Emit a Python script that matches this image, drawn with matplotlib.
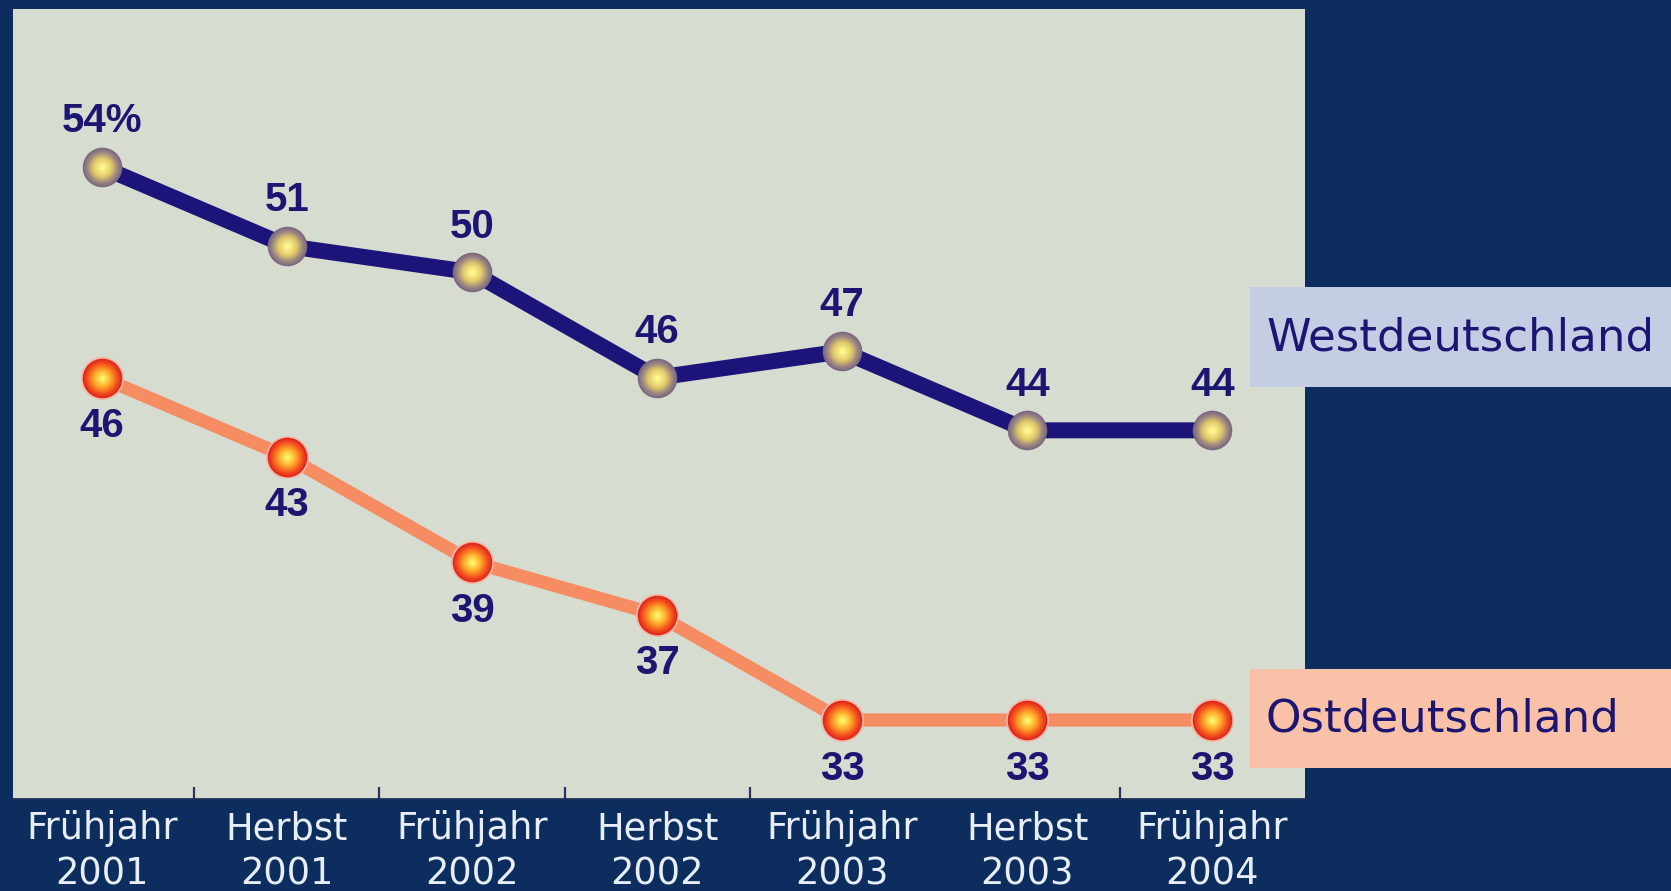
import matplotlib
matplotlib.use('Agg')
import matplotlib.pyplot as plt
import numpy as np
from matplotlib.patches import Rectangle
from matplotlib.colors import to_rgb

# ---- data ----
categories = ['Frühjahr\n2001', 'Herbst\n2001', 'Frühjahr\n2002', 'Herbst\n2002',
              'Frühjahr\n2003', 'Herbst\n2003', 'Frühjahr\n2004']
west = [54, 51, 50, 46, 47, 44, 44]
east = [46, 43, 39, 37, 33, 33, 33]
west_labels = ['54%', '51', '50', '46', '47', '44', '44']
east_labels = ['46', '43', '39', '37', '33', '33', '33']
series_names = ['Westdeutschland', 'Ostdeutschland']

# ---- style ----
bg = '#0c2d5e'
panel = '#d7dcd1'
west_line = '#1c1479'
east_line = '#f58c62'
label_col = '#1c1672'
tick_col = '#e8eef6'
west_box = '#c5cde4'
east_box = '#f9c1a8'

W, H = 1671, 891
fig = plt.figure(figsize=(W / 100, H / 100), dpi=100, facecolor=bg)
ax = fig.add_axes([13 / W, 1 - 799 / H, (1305 - 13) / W, (799 - 9) / H])
ax.set_facecolor(panel)

x = np.arange(len(categories))
ax.plot(x, west, color=west_line, lw=11.5, zorder=2)
ax.plot(x, east, color=east_line, lw=9.5, zorder=2)


def interp(stops, t):
    for (p0, c0), (p1, c1) in zip(stops[:-1], stops[1:]):
        if p0 <= t <= p1:
            f = (t - p0) / (p1 - p0) if p1 > p0 else 0
            a, b = np.array(to_rgb(c0)), np.array(to_rgb(c1))
            return tuple(a + (b - a) * f)
    return to_rgb(stops[-1][1])


def grad_markers(vals, stops, size, n=16, z=3):
    for i in range(n):
        t = i / (n - 1)
        ms = size * (1 - 0.9 * t)
        ax.plot(x, vals, ls='none', marker='o', ms=ms, mec='none',
                mfc=interp(stops, t), zorder=z + i * 0.01)


# halo for east markers
ax.plot(x, east, ls='none', marker='o', ms=31, mec='none', mfc='#f3b9a6', zorder=2.5)
grad_markers(west, [(0, '#7a6880'), (0.25, '#a08a80'), (0.55, '#e0c868'), (1, '#fff890')], 28.5)
grad_markers(east, [(0, '#e0261e'), (0.25, '#f4541e'), (0.6, '#ffaa2a'), (1, '#fff468')], 28.5)

lab_font = dict(family=['Liberation Sans', 'DejaVu Sans'], weight='bold', size=29, color=label_col)
for xi, v, s in zip(x, west, west_labels):
    ax.annotate(s, (xi, v), xytext=(0, 33), textcoords='offset points',
                ha='center', va='center', zorder=5, **lab_font)
for xi, v, s in zip(x, east, east_labels):
    ax.annotate(s, (xi, v), xytext=(0, -35), textcoords='offset points',
                ha='center', va='center', zorder=5, **lab_font)

ax.set_xlim(-0.48, 6.5)
ax.set_ylim(30, 60)
ax.set_yticks([])
for side in ['top', 'left', 'right']:
    ax.spines[side].set_visible(False)
ax.spines['bottom'].set_color('#1a2f5a')
ax.spines['bottom'].set_linewidth(2)

ax.set_xticks(x, categories)
ax.tick_params(axis='x', which='major', length=0, pad=8, labelcolor=tick_col,
               labelsize=26.5)
for t in ax.get_xticklabels():
    t.set_family('DejaVu Sans')
    t.set_linespacing(1.3)
ax.set_xticks([0.5, 1.5, 2.5, 3.5, 5.5], minor=True)
ax.tick_params(axis='x', which='minor', direction='in', length=9, width=1.6,
               color='#2a3560')

# legend boxes
fig.add_artist(Rectangle((1250 / W, 1 - 387 / H), (W - 1250) / W, (387 - 287) / H,
                         transform=fig.transFigure, facecolor=west_box, edgecolor='none', zorder=10))
fig.add_artist(Rectangle((1250 / W, 1 - 768 / H), (W - 1250) / W, (768 - 669) / H,
                         transform=fig.transFigure, facecolor=east_box, edgecolor='none', zorder=10))
fig.text(1266 / W, 1 - 338 / H, series_names[0], ha='left', va='center', fontsize=32.5,
         family='DejaVu Sans', color=label_col, zorder=11)
fig.text(1266 / W, 1 - 719 / H, series_names[1], ha='left', va='center', fontsize=32.5,
         family='DejaVu Sans', color=label_col, zorder=11)

fig.savefig('out.png', dpi=100, facecolor=bg)
